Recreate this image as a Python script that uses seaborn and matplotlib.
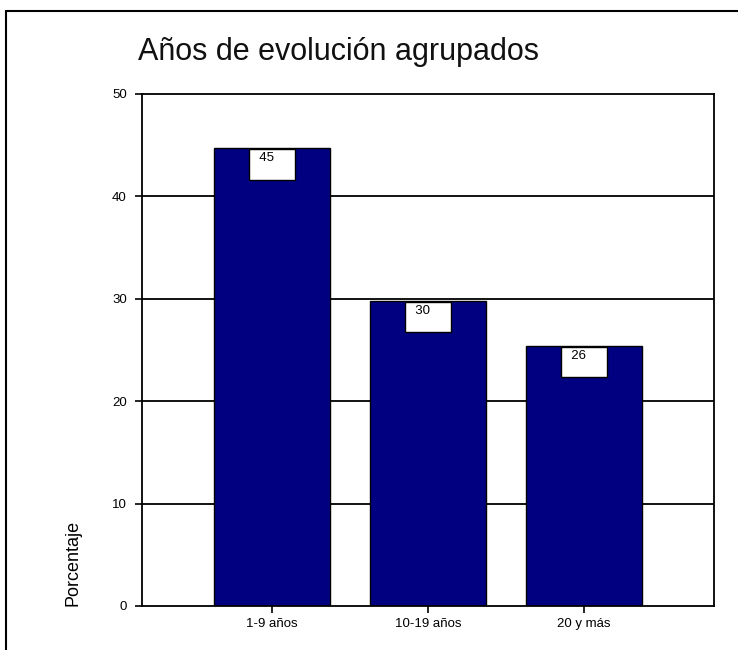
import matplotlib
matplotlib.use("Agg")
import matplotlib.pyplot as plt
from matplotlib.lines import Line2D
import seaborn as sns
import pandas as pd

# datos
categorias = ["1-9 años", "10-19 años", "20 y más"]
porcentajes = [44.7, 29.8, 25.4]
etiquetas = [45, 30, 26]
yticks = [0, 10, 20, 30, 40, 50]

sns.set_style("white")
plt.rcParams["font.family"] = ["Liberation Sans", "DejaVu Sans"]
plt.rcParams["text.color"] = "black"
plt.rcParams["axes.labelcolor"] = "black"

df = pd.DataFrame({"grupo": categorias, "pct": porcentajes})

fig = plt.figure(figsize=(7.38, 6.5), dpi=100)
ax = fig.add_axes([0.1924, 0.0677, 0.7751, 0.7877])

# lineas de la rejilla por detras de las barras
for y in yticks[1:-1]:
    ax.axhline(y, color="black", lw=1.3, zorder=0)

sns.barplot(data=df, x="grupo", y="pct", color="#000080", saturation=1,
            width=0.744, edgecolor="black", linewidth=1, ax=ax, zorder=2)

for i, (v, lab) in enumerate(zip(porcentajes, etiquetas)):
    ax.annotate(f"  {lab}     \n", xy=(i, v), xytext=(0, -3),
                textcoords="offset points", ha="center", va="top",
                fontsize=9.5, linespacing=1.0, zorder=3, color="black",
                bbox=dict(boxstyle="square,pad=0.25", fc="white",
                          ec="black", lw=1))

ax.set_xlim(-0.833, 2.833)
ax.set_ylim(0, 50)
ax.set_yticks(yticks)
ax.set_xlabel("")
ax.set_ylabel("Porcentaje", fontsize=13, loc="bottom", labelpad=22)
ax.tick_params(axis="both", direction="out", length=5, width=1.2,
               color="black", labelsize=9.5, labelcolor="black",
               bottom=True, left=True)
ax.tick_params(axis="y", pad=6)
ax.tick_params(axis="x", pad=4)

for s in ax.spines.values():
    s.set_visible(True)
    s.set_color("black")
    s.set_linewidth(1.3)

fig.text(138 / 738, 1 - 52 / 650, "Años de evolución agrupados",
         fontsize=22, ha="left", va="center", color="#111111")

# marco exterior (solo arriba e izquierda quedan visibles)
fig.add_artist(Line2D([6 / 738, 1], [1 - 11 / 650, 1 - 11 / 650],
                      transform=fig.transFigure, color="black", lw=1.5))
fig.add_artist(Line2D([6 / 738, 6 / 738], [0, 1 - 11 / 650],
                      transform=fig.transFigure, color="black", lw=1.5))

fig.savefig("out.png", dpi=100, facecolor="white")
